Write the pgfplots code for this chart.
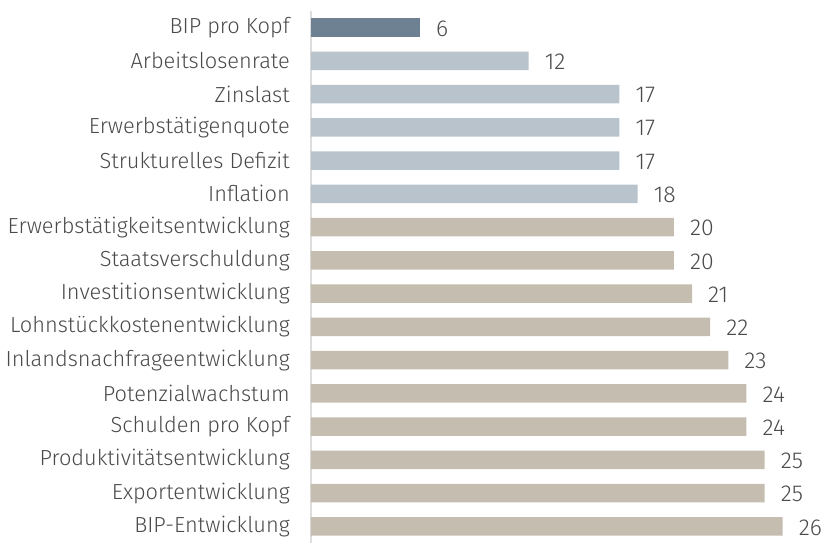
\documentclass[border=0pt]{standalone}
\usepackage{pgfplots}
\pgfplotsset{compat=1.18}
\usepackage{fontspec}
\setmainfont{Fira Sans Light}
\usetikzlibrary{calc}
\definecolor{darkbar}{HTML}{6E8192}
\definecolor{lightbar}{HTML}{B8C3CC}
\definecolor{beigebar}{HTML}{C4BDB0}
\definecolor{txt}{HTML}{4A4A4A}
\definecolor{axl}{HTML}{DDDDDD}
\begin{document}
\begin{tikzpicture}
\begin{axis}[
  scale only axis, width=508pt, height=532pt,
  xbar, bar width=18.7pt, bar shift=0pt,
  xmin=0, xmax=28, ymin=-0.5, ymax=15.5, y dir=reverse,
  hide x axis,
  axis y line*=left,
  y axis line style={axl, line width=2pt, -},
  ytick={0,...,15},
  yticklabels={BIP pro Kopf, Arbeitslosenrate, Zinslast, Erwerbstätigenquote, Strukturelles Defizit, Inflation, Erwerbstätigkeitsentwicklung, Staatsverschuldung, Investitionsentwicklung, Lohnstückkostenentwicklung, Inlandsnachfrageentwicklung, Potenzialwachstum, Schulden pro Kopf, Produktivitätsentwicklung, Exportentwicklung, BIP-Entwicklung},
  major tick length=0pt,
  yticklabel style={font=\fontsize{21.8}{26}\selectfont, text=txt, inner xsep=0pt, xshift=-21pt},
  nodes near coords,
  nodes near coords style={font=\fontsize{23}{27}\selectfont, text=txt, anchor=west, inner xsep=0pt, xshift=16pt, yshift=-1pt},
  /pgf/number format/assume math mode=true,
  clip=false,
]
\addplot[fill=darkbar, draw=none] coordinates {(6,0)};
\addplot[fill=lightbar, draw=none] coordinates {(12,1) (17,2) (17,3) (17,4) (18,5)};
\addplot[fill=beigebar, draw=none] coordinates {(20,6) (20,7) (21,8) (22,9) (23,10) (24,11) (24,12) (25,13) (25,14) (26,15)};
\end{axis}
\pgfresetboundingbox
\path ($(current axis.south west)+(-311pt,0pt)$) rectangle ($(current axis.south west)+(511pt,543pt)$);
\end{tikzpicture}
\end{document}
